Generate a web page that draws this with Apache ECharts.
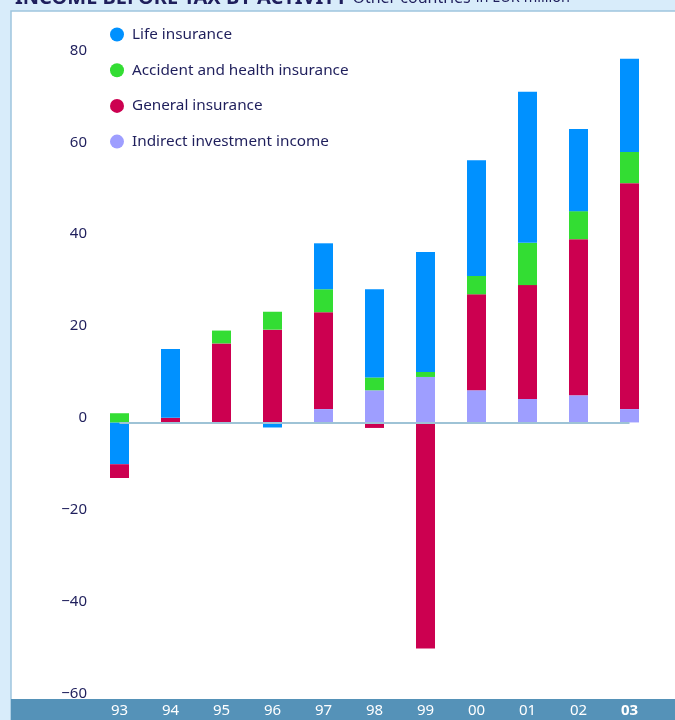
<!DOCTYPE html>
<html>
<head>
<meta charset="utf-8">
<script src="https://cdn.jsdelivr.net/npm/echarts@6/dist/echarts.min.js"></script>
<style>
  html, body { margin: 0; padding: 0; background: #fff; }
  #main { width: 675px; height: 720px; }
</style>
</head>
<body>
<div id="main"></div>
<script>
// years (categories)
var years = ['93', '94', '95', '96', '97', '98', '99', '00', '01', '02', '03'];
// EUR million
var lifeIns = [-9.1, 15.0, 0, -1.1, 10.0, 19.2, 26.1, 25.2, 32.9, 17.9, 20.3];
var accidentIns = [2.0, 0, 2.8, 3.9, 5.0, 2.8, 1.1, 4.0, 9.2, 6.1, 6.8];
var generalIns = [-3.0, 1.0, 17.2, 20.2, 21.1, -1.2, -49.2, 20.9, 24.8, 34.0, 49.2];
var indirectInc = [0, 0, 0, 0, 2.9, 7.0, 9.9, 7.0, 5.1, 5.9, 2.9];
var yTicks = [-60, -40, -20, 0, 20, 40, 60, 80];

function renderIncomeChart() {
    var dom = document.getElementById('main');
    var myChart = echarts.init(dom);
    var option;

    const colors = ['#0091ff', '#33dd33', '#cc0050', '#9e9eff'];
    const navy = '#1f1f5c';
    const font = 'Noto Sans';

    // life negative part sits next to zero line, positive part on top
    var lifeNeg = lifeIns.map(function (v) { return v < 0 ? v : '-'; });
    var lifePos = lifeIns.map(function (v) { return v > 0 ? v : '-'; });
    var nz = function (arr) { return arr.map(function (v) { return v === 0 ? '-' : v; }); };

    option = {
        backgroundColor: '#d8ecfa',
        animation: false,
        title: {
            text: '{b|INCOME BEFORE TAX BY ACTIVITY} {n|Other countries} {s|in EUR million}',
            left: 10,
            top: -17,
            textStyle: {
                rich: {
                    b: { fontFamily: font, fontSize: 20, fontWeight: 'bold', color: navy },
                    n: { fontFamily: font, fontSize: 16, fontWeight: 'normal', color: navy },
                    s: { fontFamily: font, fontSize: 14.5, fontWeight: 'normal', color: navy }
                }
            }
        },
        graphic: [
            {
                type: 'rect', z: -1,
                shape: { x: 11, y: 11, width: 700, height: 720 },
                style: { fill: '#ffffff', stroke: '#9fc5de', lineWidth: 1.5 }
            },
            {
                type: 'rect', z: -1,
                shape: { x: 11, y: 699, width: 664, height: 21 },
                style: { fill: '#5592b8' }
            }
        ],
        legend: {
            orient: 'vertical',
            left: 105,
            top: 22,
            icon: 'circle',
            itemWidth: 14,
            itemHeight: 14,
            itemGap: 20.7,
            textStyle: { fontFamily: font, fontSize: 15.3, color: navy, lineHeight: 14, padding: [0, 0, 0, 3] },
            data: ['Life insurance', 'Accident and health insurance', 'General insurance', 'Indirect investment income']
        },
        grid: {
            left: 94,
            right: 20,
            top: 55,
            bottom: 22
        },
        xAxis: {
            type: 'category',
            data: years,
            axisLine: { show: false, onZero: false },
            axisTick: { show: false },
            axisLabel: {
                interval: 0,
                margin: 5,
                fontFamily: font,
                fontSize: 15,
                color: '#ffffff',
                formatter: function (v) { return v === '03' ? '{b|' + v + '}' : v; },
                rich: { b: { fontFamily: font, fontSize: 15, fontWeight: 'bold', color: '#ffffff' } }
            }
        },
        yAxis: {
            type: 'value',
            min: yTicks[0],
            max: yTicks[yTicks.length - 1],
            interval: 20,
            axisLine: { show: false },
            axisTick: { show: false },
            splitLine: { show: false },
            axisLabel: {
                margin: 7,
                fontFamily: font,
                fontSize: 15,
                color: navy,
                verticalAlign: 'bottom',
                lineHeight: 9,
                formatter: function (v) { return v < 0 ? '\u2212' + Math.abs(v) : String(v); }
            }
        },
        series: [
            {
                name: 'Indirect investment income',
                type: 'bar',
                stack: 'total',
                barWidth: 19,
                itemStyle: { color: colors[3] },
                data: nz(indirectInc),
                markLine: {
                    silent: true,
                    symbol: 'none',
                    label: { show: false },
                    lineStyle: { color: '#9ec3d6', width: 2, type: 'solid' },
                    data: [[{ coord: [years[0], 0] }, { coord: [years[years.length - 1], 0] }]]
                }
            },
            {
                name: 'Life insurance',
                type: 'bar',
                stack: 'total',
                barWidth: 19,
                itemStyle: { color: colors[0] },
                data: lifeNeg
            },
            {
                name: 'General insurance',
                type: 'bar',
                stack: 'total',
                barWidth: 19,
                itemStyle: { color: colors[2] },
                data: nz(generalIns)
            },
            {
                name: 'Accident and health insurance',
                type: 'bar',
                stack: 'total',
                barWidth: 19,
                itemStyle: { color: colors[1] },
                data: nz(accidentIns)
            },
            {
                name: 'Life insurance',
                type: 'bar',
                stack: 'total',
                barWidth: 19,
                itemStyle: { color: colors[0] },
                data: lifePos
            }
        ]
    };

    if (option && typeof option === 'object') {
        myChart.setOption(option);
    }
}
renderIncomeChart();
</script>
</body>
</html>
